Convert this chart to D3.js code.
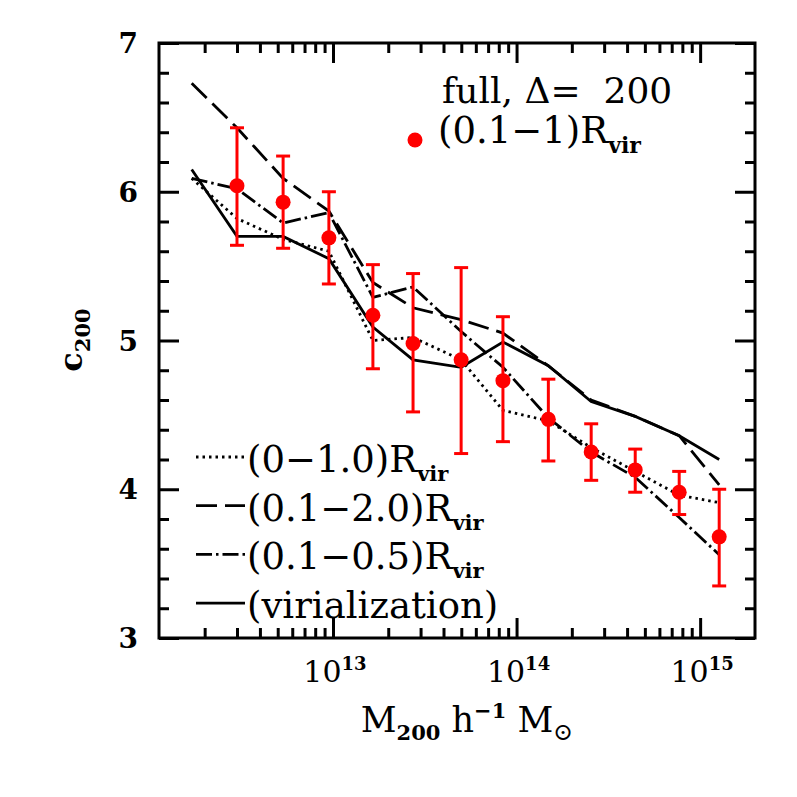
<!DOCTYPE html>
<meta charset="utf-8">
<script src="https://d3js.org/d3.v7.min.js"></script>
<style>
  body { margin: 0; background: #fff; }
  text { font-family: "DejaVu Serif", serif; fill: #000; white-space: pre; }
</style>
<svg width="797" height="797"></svg>
<script>

    // mass bins (h^-1 Msun) where the curves have vertices
    const massBins = [1.7e12, 3.0e12, 5.35e12, 9.5e12, 1.65e13, 2.73e13, 4.99e13,
        8.43e13, 1.49e14, 2.55e14, 4.43e14, 7.69e14, 1.27e15];

    // red points: (0.1-1) Rvir fit, one per bin except the first
    const pointMass = massBins.slice(1);
    const pointC = [6.04, 5.93, 5.69, 5.17, 4.98, 4.87, 4.73, 4.47, 4.25, 4.13, 3.98, 3.68];
    const pointHi = [6.43, 6.24, 6.00, 5.51, 5.45, 5.49, 5.16, 4.74, 4.44, 4.27, 4.12, 4.00];
    const pointLo = [5.64, 5.62, 5.38, 4.81, 4.52, 4.24, 4.32, 4.19, 4.06, 3.98, 3.83, 3.35];

    // black curves
    const cDotted = [6.09, 5.82, 5.68, 5.60, 5.00, 5.02, 4.87, 4.53, 4.46, 4.28, 4.12, 3.96, 3.91];
    const cDashed = [6.73, 6.43, 6.09, 5.87, 5.39, 5.22, 5.14, 5.05, 4.83, 4.60, 4.49, 4.36, 4.03];
    const cDashDot = [6.09, 6.02, 5.79, 5.86, 5.29, 5.36, 5.06, 4.82, 4.48, 4.25, 4.08, 3.81, 3.56];
    const cVirial = [6.15, 5.70, 5.70, 5.55, 5.09, 4.87, 4.82, 4.99, 4.83, 4.59, 4.49, 4.36, 4.20];

    const yTicks = [3, 4, 5, 6, 7];
    const xMajor = [1e13, 1e14, 1e15];
    const xLabels = ['13', '14', '15'];

    const pL = 159, pR = 755, pT = 43, pB = 638;

    const x = d3.scaleLog().domain([1.128e12, 1.99e15]).range([pL, pR]);
    const y = d3.scaleLinear().domain([3, 7]).range([pB, pT]);

    const svg = d3.select('svg');

    // minor ticks
    const xMinor = [];
    [1e12, 1e13, 1e14].forEach(d => {
        for (let k = 2; k <= 9; k++) xMinor.push(k * d);
    });
    const xMinorIn = xMinor.filter(v => v > x.domain()[0] && v < x.domain()[1]);
    const yMinor = d3.range(3, 7.001, 0.2).filter(v => Math.abs(v - Math.round(v)) > 0.01);

    function tickAxis(axis, values, size, transform) {
        svg.append('g')
            .attr('transform', transform)
            .call(axis.tickValues(values).tickSize(size).tickFormat(''))
            .call(g => g.select('.domain').remove())
            .call(g => g.selectAll('line').attr('stroke', '#000').attr('stroke-width', 3));
    }

    tickAxis(d3.axisBottom(x), xMinorIn, -10, `translate(0,${pB})`);
    tickAxis(d3.axisBottom(x), xMajor, -20, `translate(0,${pB})`);
    tickAxis(d3.axisTop(x), xMinorIn, -10, `translate(0,${pT})`);
    tickAxis(d3.axisTop(x), xMajor, -20, `translate(0,${pT})`);
    tickAxis(d3.axisLeft(y), yMinor, -10, `translate(${pL},0)`);
    tickAxis(d3.axisLeft(y), yTicks, -20, `translate(${pL},0)`);
    tickAxis(d3.axisRight(y), yMinor, -10, `translate(${pR},0)`);
    tickAxis(d3.axisRight(y), yTicks, -20, `translate(${pR},0)`);

    svg.append('rect')
        .attr('x', pL).attr('y', pT)
        .attr('width', pR - pL).attr('height', pB - pT)
        .attr('fill', 'none').attr('stroke', '#000').attr('stroke-width', 3);

    // tick labels
    svg.selectAll('.ylab')
        .data(yTicks)
        .enter().append('text')
        .attr('x', 138)
        .attr('y', d => y(d) + 10)
        .attr('text-anchor', 'end')
        .style('font-size', '28px')
        .style('font-weight', 'bold')
        .text(d => d);

    const xl = svg.selectAll('.xlab')
        .data(xMajor)
        .enter().append('text')
        .attr('x', d => x(d) + 2)
        .attr('y', 682)
        .attr('text-anchor', 'middle')
        .style('font-size', '30px');
    xl.append('tspan').text('10');
    xl.append('tspan').attr('dy', -12).style('font-size', '18px').style('font-weight', 'bold')
        .text((d, i) => xLabels[i]);

    // axis titles
    const xt = svg.append('text')
        .attr('x', 467).attr('y', 732)
        .attr('text-anchor', 'middle')
        .style('font-size', '35px');
    xt.append('tspan').text('M');
    xt.append('tspan').attr('dy', 8).style('font-size', '21px').style('font-weight', 'bold').text('200');
    xt.append('tspan').attr('dy', -8).text(' h');
    xt.append('tspan').attr('dy', -14).style('font-size', '21px').style('font-weight', 'bold').text('−1');
    xt.append('tspan').attr('dy', 14).text(' M');
    xt.append('tspan').attr('dy', 8).style('font-size', '24px').text('⊙');

    const yt = svg.append('text')
        .attr('transform', 'translate(82,340) rotate(-90)')
        .attr('text-anchor', 'middle')
        .style('font-size', '32px')
        .style('font-weight', 'bold');
    yt.append('tspan').text('c');
    yt.append('tspan').attr('dy', 8).style('font-size', '21px').text('200');

    // curves
    const curves = [
        {c: cDotted, dash: '2.5,4', label: '(0−1.0)R'},
        {c: cDashed, dash: '21,8', label: '(0.1−2.0)R'},
        {c: cDashDot, dash: '16,4,2.5,4', label: '(0.1−0.5)R'},
        {c: cVirial, dash: null, label: '(virialization)'}
    ];

    const line = d3.line()
        .x((d, i) => x(massBins[i]))
        .y(d => y(d));

    svg.selectAll('.curve')
        .data(curves)
        .enter().append('path')
        .attr('d', d => line(d.c))
        .attr('fill', 'none')
        .attr('stroke', '#000')
        .attr('stroke-width', 2.8)
        .attr('stroke-dasharray', d => d.dash);

    // error bars and points
    const pts = pointMass.map((m, i) => ({m: m, c: pointC[i], hi: pointHi[i], lo: pointLo[i]}));
    const eb = svg.selectAll('.eb').data(pts).enter().append('g')
        .attr('stroke', '#ff0000').attr('stroke-width', 3);
    eb.append('line')
        .attr('x1', d => x(d.m)).attr('x2', d => x(d.m))
        .attr('y1', d => y(d.hi)).attr('y2', d => y(d.lo));
    eb.append('line')
        .attr('x1', d => x(d.m) - 7).attr('x2', d => x(d.m) + 7)
        .attr('y1', d => y(d.hi)).attr('y2', d => y(d.hi));
    eb.append('line')
        .attr('x1', d => x(d.m) - 7).attr('x2', d => x(d.m) + 7)
        .attr('y1', d => y(d.lo)).attr('y2', d => y(d.lo));

    svg.selectAll('.pt').data(pts).enter().append('circle')
        .attr('cx', d => x(d.m)).attr('cy', d => y(d.c))
        .attr('r', 7.5).attr('fill', '#ff0000');

    // top legend
    svg.append('text')
        .attr('x', 442).attr('y', 103)
        .style('font-size', '36px')
        .text('full, Δ=  200');
    svg.append('circle')
        .attr('cx', 415).attr('cy', 140).attr('r', 7.5).attr('fill', '#ff0000');
    const t2 = svg.append('text')
        .attr('x', 438).attr('y', 143)
        .style('font-size', '37px');
    t2.append('tspan').text('(0.1−1)R');
    t2.append('tspan').attr('dy', 10).style('font-size', '22px').style('font-weight', 'bold').text('vir');

    // bottom legend
    const rows = svg.selectAll('.leg').data(curves).enter().append('g')
        .attr('transform', (d, i) => `translate(0,${457 + i * 48.7})`);
    rows.append('line')
        .attr('x1', 196).attr('x2', 245)
        .attr('stroke', '#000').attr('stroke-width', 2.8)
        .attr('stroke-dasharray', d => d.dash);
    const rt = rows.append('text')
        .attr('x', 247).attr('y', 15)
        .style('font-size', '37px');
    rt.append('tspan').text(d => d.label);
    rt.filter((d, i) => i < 3).append('tspan')
        .attr('dy', 9).style('font-size', '21px').style('font-weight', 'bold').text('vir');

</script>
